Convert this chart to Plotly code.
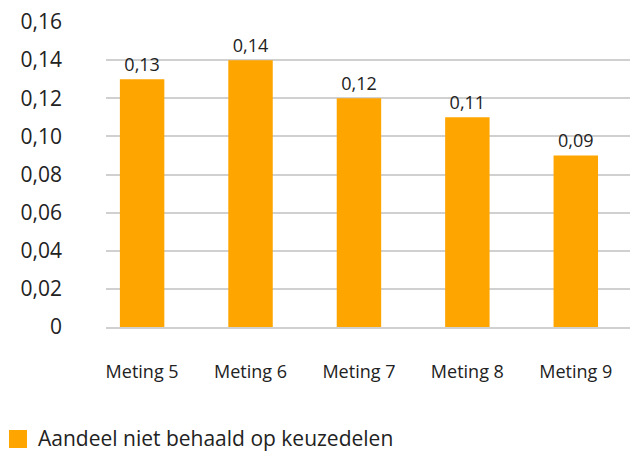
import plotly.graph_objects as go

categories = ["Meting 5", "Meting 6", "Meting 7", "Meting 8", "Meting 9"]
values = [0.13, 0.14, 0.12, 0.11, 0.09]
labels = ["0,13", "0,14", "0,12", "0,11", "0,09"]
tick_vals = [0, 0.02, 0.04, 0.06, 0.08, 0.10, 0.12, 0.14, 0.16]
tick_text = ["0", "0,02", "0,04", "0,06", "0,08", "0,10", "0,12", "0,14", "0,16"]
series_name = "Aandeel niet behaald op keuzedelen"

orange = "#FFA500"
font = "Open Sans"
W, H = 630, 452

fig = go.Figure()
fig.add_trace(go.Bar(
    x=categories, y=values, name=series_name, showlegend=False,
    marker=dict(color=orange, line=dict(width=0)),
    width=0.41,
    text=labels, textposition="outside", cliponaxis=False,
    textfont=dict(family=font, size=18, color="#222222"),
))

# legend drawn by hand (a plotly legend this low pushes the plot area up)
fig.add_shape(type="rect", xref="paper", yref="paper",
              x0=-97 / 524, x1=-79 / 524, y0=-121 / 305, y1=-103 / 305,
              fillcolor=orange, line=dict(width=0))
fig.add_annotation(text=series_name, xref="paper", yref="paper",
                   x=-69 / 524, y=-111 / 305, xanchor="left", yanchor="middle",
                   showarrow=False, borderpad=0,
                   font=dict(family=font, size=21, color="#222222"))

fig.update_layout(
    width=W, height=H,
    margin=dict(l=106, r=0, t=22, b=125),
    paper_bgcolor="white", plot_bgcolor="white",
    font=dict(family=font, size=18, color="#222222"),
    showlegend=False,
    xaxis=dict(range=[-0.333, 4.5], showgrid=False, showline=True,
               linecolor="#D0D0D0", linewidth=2, ticks="outside", ticklen=27,
               tickcolor="white", tickfont=dict(size=18), automargin=False),
    yaxis=dict(range=[0, 0.16], tickvals=tick_vals, ticktext=tick_text,
               showgrid=True, gridcolor="#D0D0D0", gridwidth=1.5,
               zeroline=False, showline=False, ticklabelstandoff=43,
               tickfont=dict(size=21), automargin=False),
)

fig.write_html("out.html", config={"displayModeBar": False},
               post_script="document.body.style.margin='0';")
